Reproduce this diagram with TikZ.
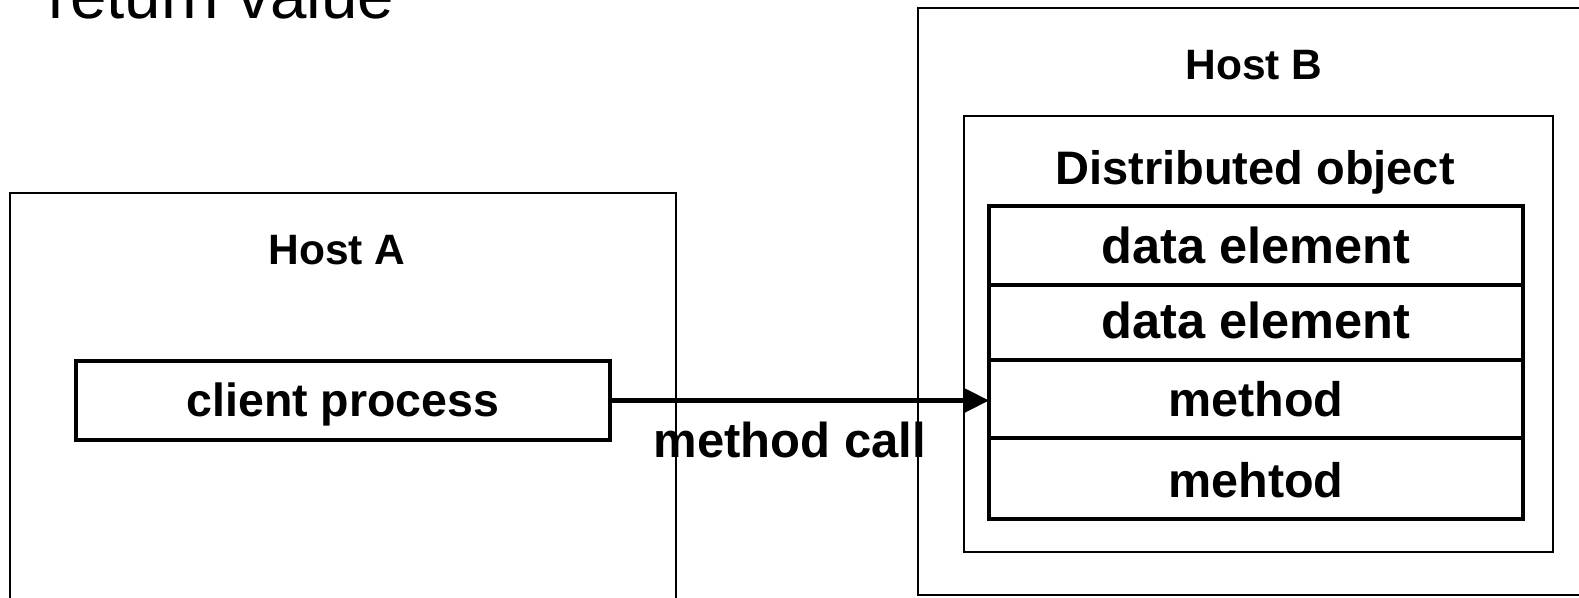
\documentclass[tikz,border=0pt]{standalone}
\usepackage{fontspec}
\setmainfont{Liberation Sans}
\usetikzlibrary{arrows.meta}

\begin{document}
\begin{tikzpicture}[x=1pt,y=-1pt,
  hostbox/.style={draw=black, line width=2pt},
  cellbox/.style={draw=black, line width=4.5pt},
  lbl/.style={anchor=base, inner sep=0pt, font=\fontsize{#1}{#1}\selectfont\bfseries},
  lbl/.default=47,
  callarrow/.style={line width=4.5pt, -{Triangle[length=26pt,width=25pt]}}]
  \useasboundingbox (0,0) rectangle (1579,597);
  \clip (0,0) rectangle (1579,597);

  % caption cut by the top margin
  \node[anchor=base west, inner sep=0pt, font=\fontsize{65.5}{78}\selectfont] (ret) at (48,19) {return value};

  % Host A
  \draw[hostbox] (10,193) rectangle (676,640);
  \node[lbl=42.5] (hosta) at (337,264) {Host A};
  \draw[cellbox] (76,361) rectangle (610,440);
  \coordinate (clientE) at (610,400.5);
  \node[lbl=46.5] (client) at (343,416) {client process};

  % Host B
  \draw[hostbox] (918,8) rectangle (1620,595);
  \node[lbl=42.5] (hostb) at (1254,79) {Host B};
  \draw[hostbox] (964,116) rectangle (1553,552);
  \node[lbl=47] (dobj) at (1255,184) {Distributed object};

  % object table
  \draw[cellbox] (989,206) rectangle (1523,519);
  \draw[cellbox] (989,285) -- (1523,285);
  \draw[cellbox] (989,360) -- (1523,360);
  \draw[cellbox] (989,438) -- (1523,438);
  \coordinate (methodW) at (989,400.5);
  \node[lbl=50.5] (d1) at (1256,263) {data element};
  \node[lbl=50.5] (d2) at (1256,338) {data element};
  \node[lbl=48.5] (m1) at (1256,416) {method};
  \node[lbl=48.5] (m2) at (1256,497) {mehtod};

  % call
  \draw[callarrow] (clientE) -- (methodW);
  \node[lbl=49] (call) at (790,457) {method call};
\end{tikzpicture}
\end{document}
